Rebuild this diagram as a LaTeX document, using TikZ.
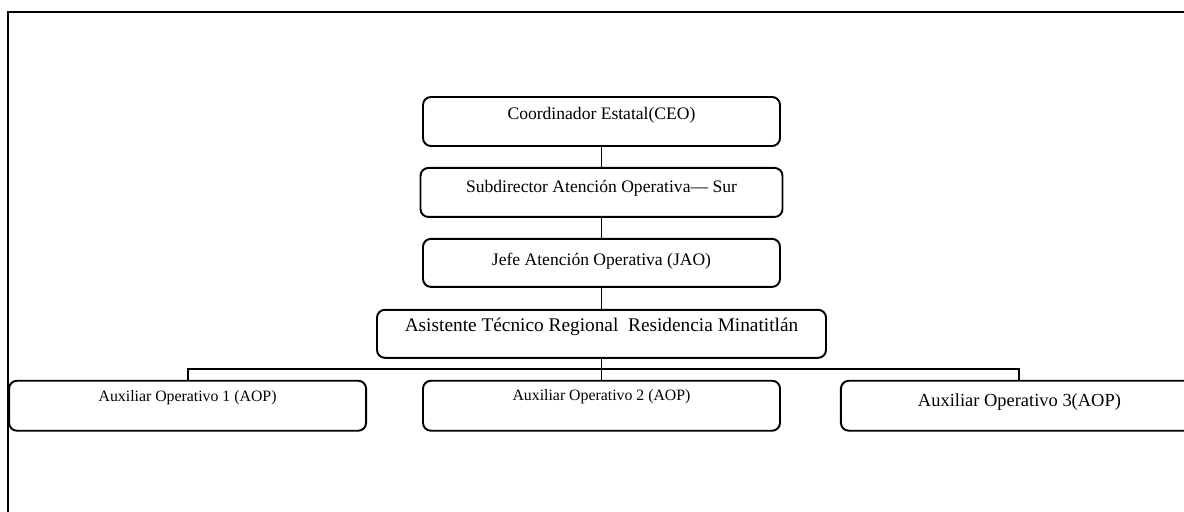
\documentclass[tikz,border=0pt]{standalone}
\usepackage{fontspec}
\setmainfont{Liberation Serif}
\usetikzlibrary{positioning,calc}
\tikzset{puesto/.style={draw,rounded corners=4.5pt,line width=1.1pt,inner sep=0pt,
    minimum width=7.14cm,text height=0.46cm,text depth=0.52cm}}

\begin{document}
\begin{tikzpicture}

\useasboundingbox (0,0) rectangle (23.68,-10.22);
\draw[line width=1.6pt] (0.16,-0.24) rectangle (24.5,-11);

\node[puesto,
    font=\fontsize{10}{12}\selectfont
] (ceo) at (12.03,-2.43) {Coordinador Estatal(CEO)};

\node[puesto,
	below=0.40cm of ceo,
    minimum width=7.24cm,
    text height=0.5cm,
    text depth=0.48cm,
    font=\fontsize{10}{12}\selectfont
] (sub) {Subdirector Atención Operativa— Sur};

\node[puesto,
	below=0.40cm of sub,
    text height=0.54cm,
    text depth=0.42cm,
    font=\fontsize{10}{12}\selectfont
] (jao) {Jefe Atención Operativa (JAO)};

\node[puesto,
	below=0.42cm of jao,
    minimum width=8.98cm,
    text height=0.44cm,
    text depth=0.52cm,
    font=\fontsize{11}{13}\selectfont
] (asis) {Asistente Técnico Regional \ Residencia Minatitlán};

\node[puesto,
	below=0.42cm of asis,
    text height=0.40cm,
    text depth=0.60cm,
    font=\fontsize{9}{11}\selectfont
] (aop2) {Auxiliar Operativo 2 (AOP)};

\node[puesto,
	left=1.1cm of aop2,
    text height=0.42cm,
    text depth=0.58cm,
    font=\fontsize{9}{11}\selectfont
] (aop1) {Auxiliar Operativo 1 (AOP)};

\node[puesto,
	right=1.18cm of aop2,
    text height=0.52cm,
    text depth=0.48cm,
    font=\fontsize{10.5}{12.5}\selectfont
] (aop3) {Auxiliar Operativo 3(AOP)};

\coordinate (bus) at ($(asis.south)!0.5!(aop2.north)$);

% Lines
\draw[line width=1.1pt] (ceo) -- (sub)
    (sub) -- (jao)
    (jao) -- (asis)
    (asis) -- (aop2)
    (aop1.north) |- (bus) -| (aop3.north)
    ;
\end{tikzpicture}
\end{document}
